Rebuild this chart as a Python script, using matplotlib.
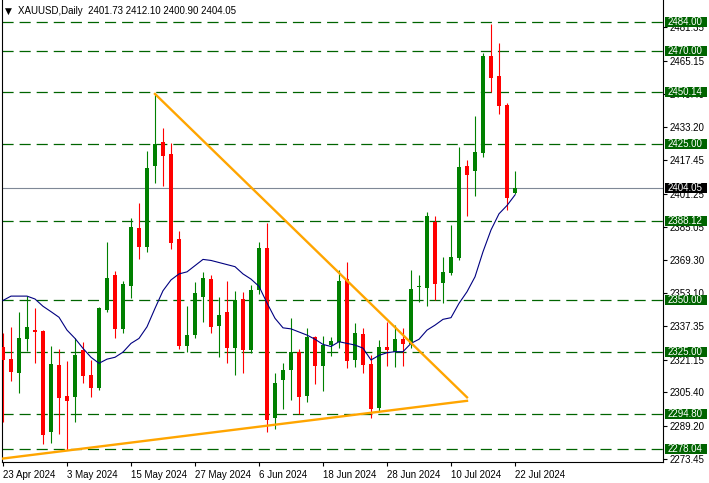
import matplotlib
matplotlib.use("Agg")
import matplotlib.pyplot as plt
import matplotlib.transforms as mtransforms
from matplotlib.patches import Rectangle

plt.rcParams["font.family"] = ["Liberation Sans", "DejaVu Sans"]
plt.rcParams["lines.scale_dashes"] = False

# daily bars, 23 Apr 2024 .. 22 Jul 2024
opens = [2327.4, 2321.4, 2314.8, 2331.2, 2335.4, 2334.9, 2286.4, 2318.6, 2303.6, 2303.3,
         2325.8, 2313.7, 2307.6, 2345.1, 2362.0, 2336.1, 2356.8, 2384.6, 2375.6, 2414.5,
         2426.1, 2420.5, 2379.3, 2327.9, 2333.0, 2351.5, 2360.0, 2337.4, 2344.3, 2326.9,
         2350.4, 2325.8, 2354.7, 2375.1, 2293.1, 2311.3, 2316.1, 2324.7, 2303.7, 2331.9,
         2318.2, 2328.1, 2329.5, 2359.9, 2321.0, 2333.5, 2319.0, 2297.7, 2327.4, 2325.0,
         2331.1, 2328.7, 2356.3, 2355.8, 2387.4, 2358.3, 2363.1, 2370.3, 2414.7, 2412.3,
         2421.0, 2467.6, 2458.0, 2444.0, 2401.73]
highs = [2333.8, 2337.0, 2344.0, 2351.8, 2346.0, 2335.5, 2327.7, 2326.3, 2320.5, 2331.7,
         2329.8, 2321.0, 2346.5, 2377.9, 2363.9, 2359.2, 2389.6, 2396.6, 2421.8, 2449.3,
         2432.7, 2425.6, 2383.2, 2347.0, 2358.4, 2363.6, 2362.0, 2351.5, 2359.1, 2354.2,
         2353.9, 2357.1, 2378.0, 2387.2, 2314.8, 2319.4, 2341.1, 2326.1, 2336.5, 2332.5,
         2332.5, 2332.2, 2364.4, 2368.1, 2338.7, 2336.2, 2323.4, 2330.6, 2339.4, 2337.8,
         2336.2, 2364.4, 2362.0, 2392.4, 2390.4, 2370.5, 2386.1, 2423.9, 2417.4, 2438.7,
         2468.9, 2482.9, 2474.0, 2445.1, 2412.10]
lows = [2291.2, 2311.0, 2304.9, 2325.3, 2319.4, 2280.4, 2281.1, 2285.1, 2277.6, 2291.2,
        2309.7, 2303.3, 2306.5, 2344.0, 2331.4, 2333.8, 2351.0, 2369.8, 2373.2, 2406.5,
        2404.9, 2374.4, 2326.4, 2324.9, 2331.4, 2339.4, 2333.8, 2322.3, 2319.7, 2313.7,
        2314.8, 2324.5, 2352.8, 2286.4, 2287.5, 2297.2, 2301.7, 2294.9, 2300.8, 2309.4,
        2306.2, 2322.9, 2326.9, 2316.9, 2317.4, 2314.9, 2293.1, 2296.4, 2318.2, 2317.7,
        2318.2, 2326.6, 2349.1, 2347.2, 2349.9, 2348.6, 2362.0, 2369.0, 2390.6, 2400.2,
        2419.0, 2450.4, 2439.5, 2393.3, 2400.90]
closes = [2321.0, 2315.3, 2331.4, 2336.7, 2334.6, 2284.8, 2319.0, 2302.8, 2301.3, 2323.4,
          2313.4, 2307.6, 2346.2, 2360.5, 2335.8, 2357.6, 2385.3, 2375.6, 2413.7, 2425.2,
          2419.4, 2377.3, 2327.7, 2333.0, 2353.4, 2360.7, 2337.0, 2342.7, 2326.9, 2349.9,
          2325.8, 2354.9, 2375.1, 2292.0, 2310.0, 2316.1, 2324.7, 2303.3, 2331.9, 2318.2,
          2328.2, 2330.1, 2359.1, 2320.5, 2334.1, 2318.6, 2297.3, 2327.4, 2325.8, 2331.1,
          2328.7, 2355.2, 2356.8, 2390.4, 2357.6, 2363.3, 2370.5, 2414.2, 2410.3, 2421.1,
          2467.6, 2457.1, 2443.6, 2399.3, 2404.05]
ma = [2349.7, 2351.8, 2351.8, 2351.8, 2350.4, 2346.9, 2344.3, 2341.6, 2335.4, 2331.4,
      2326.6, 2322.3, 2319.4, 2321.4, 2322.3, 2324.8, 2329.0, 2331.4, 2337.0, 2345.9,
      2354.4, 2359.6, 2362.5, 2363.5, 2366.5, 2369.5, 2369.0, 2368.0, 2367.0, 2366.0,
      2362.5, 2360.0, 2356.5, 2348.5, 2341.1, 2336.5, 2336.0, 2334.5, 2333.0, 2331.0,
      2328.5, 2327.5, 2329.8, 2329.0, 2328.2, 2326.7, 2321.0, 2323.2, 2324.5, 2325.0,
      2325.0, 2329.0, 2331.0, 2335.4, 2337.8, 2340.6, 2341.4, 2348.3, 2353.9, 2361.1,
      2373.2, 2383.7, 2391.5, 2395.5, 2400.6]

date_labels = ["23 Apr 2024", "3 May 2024", "15 May 2024", "27 May 2024", "6 Jun 2024",
               "18 Jun 2024", "28 Jun 2024", "10 Jul 2024", "22 Jul 2024"]
price_ticks = [2273.45, 2289.20, 2305.40, 2321.15, 2337.35, 2353.10, 2369.30, 2385.05,
               2401.25, 2417.45, 2433.20, 2449.40, 2465.15, 2481.35]
levels = [2484.00, 2470.00, 2450.14, 2425.00, 2388.12, 2350.00, 2325.00, 2294.80, 2278.04]
last_price = 2404.05

# trend lines (bar index, price)
trend_up_x = [-1, 58]
trend_up_y = [2273.0, 2301.3]
trend_down_x = [19, 58]
trend_down_y = [2449.3, 2303.0]

W, H = 709, 483
fig = plt.figure(figsize=(W / 100, H / 100), dpi=100)
ax = fig.add_axes([2 / W, 21 / H, 661 / W, 462 / H])
ax.set_xlim(-0.125, 82.5)
ax.set_ylim(2271.8, 2494.6)

green = "#008000"
red = "#ff0000"
lvl_green = "#006400"

for lv in levels:
    ax.axhline(lv, color=lvl_green, lw=0.9, dashes=(8, 4.3), zorder=1)
ax.axhline(last_price, color="#7f8896", lw=0.8, zorder=1)

n = len(opens)
xs = list(range(n))
cols = [green if c >= o else red for o, c in zip(opens, closes)]
ax.vlines(xs, lows, highs, colors=cols, lw=0.8, zorder=3)
bottoms = [min(o, c) for o, c in zip(opens, closes)]
heights = [max(abs(c - o), 0.5) for o, c in zip(opens, closes)]
ax.bar(xs, heights, bottom=bottoms, width=0.62, color=cols, lw=0, zorder=4)

ax.plot(xs, ma, color="#000080", lw=0.8, zorder=5)
ax.plot(trend_down_x, trend_down_y, color="#ffa500", lw=1.7, zorder=6)
ax.plot(trend_up_x, trend_up_y, color="#ffa500", lw=1.7, zorder=6)

for s in ["left", "bottom", "right"]:
    ax.spines[s].set_linewidth(0.8)
    ax.spines[s].set_color("black")
ax.spines["top"].set_visible(False)

ax.yaxis.tick_right()
ax.set_yticks(price_ticks)
ax.set_yticklabels([f"{v:.2f}" for v in price_ticks])
ax.set_xticks(list(range(0, n, 8)))
ax.set_xticklabels(date_labels)
for lab in ax.get_xticklabels():
    lab.set_horizontalalignment("left")
ax.tick_params(axis="both", length=3, width=0.8, labelsize=7, pad=2, colors="black")
ax.tick_params(axis="x", pad=3)

# price boxes on the right scale
trans = mtransforms.blended_transform_factory(ax.transAxes, ax.transData)
x0 = (665 - 2) / 661
bw = 42 / 661
half = 4.9 * (ax.get_ylim()[1] - ax.get_ylim()[0]) / 462
for lv, fc in [(v, lvl_green) for v in levels] + [(last_price, "black")]:
    ax.add_patch(Rectangle((x0, lv - half), bw, 2 * half, transform=trans,
                           facecolor=fc, edgecolor="none", clip_on=False, zorder=9))
    ax.text((668 - 2) / 661, lv, f"{lv:.2f}", transform=trans, color="white",
            fontsize=7, va="center", ha="left", clip_on=False, zorder=10)

fig.text(5 / W, 1 - 11 / H, "\u25BC", fontsize=6.5, family="DejaVu Sans", va="center")
fig.text(18 / W, 1 - 11 / H, "XAUUSD,Daily  2401.73 2412.10 2400.90 2404.05",
         fontsize=7, va="center", color="black")

fig.savefig("out.png", dpi=100)
